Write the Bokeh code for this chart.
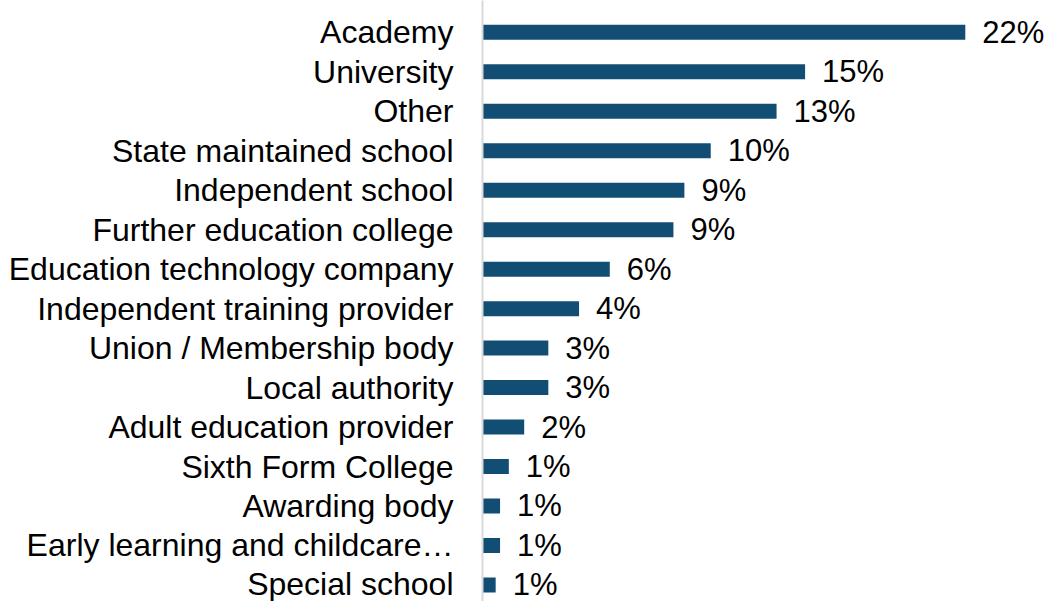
from bokeh.plotting import figure
from bokeh.models import ColumnDataSource, Range1d, FixedTicker
from bokeh.core.properties import value
from bokeh.embed import file_html
from bokeh.resources import INLINE

categories = [
    "Academy", "University", "Other", "State maintained school", "Independent school",
    "Further education college", "Education technology company", "Independent training provider",
    "Union / Membership body", "Local authority", "Adult education provider",
    "Sixth Form College", "Awarding body", "Early learning and childcare\u2026", "Special school",
]
shares = [22.0, 14.7, 13.4, 10.4, 9.2, 8.7, 5.8, 4.4, 3.0, 3.0, 1.9, 1.2, 0.8, 0.8, 0.6]
share_labels = ["22%", "15%", "13%", "10%", "9%", "9%", "6%", "4%", "3%", "3%", "2%", "1%", "1%", "1%", "1%"]

n = len(categories)
ypos = [n - 1 - i for i in range(n)]

src = ColumnDataSource(dict(cat=categories, share=shares, lab=share_labels, y=ypos))

p = figure(width=1046, height=601, output_backend="svg", toolbar_location=None,
           x_range=Range1d(0, 25.70), y_range=Range1d(-0.42, 14.807),
           x_axis_location=None, min_border_left=482, min_border_right=0,
           min_border_top=0, min_border_bottom=0)
p.outline_line_color = None
p.xgrid.visible = False
p.ygrid.visible = False
p.background_fill_color = "white"

p.hbar(y="y", left=0, right="share", height=0.38, source=src,
       fill_color="#124e73", line_color=None)
p.text(x="share", y="y", text="lab", source=src, x_offset=17, y_offset=0,
       text_baseline="middle", text_align="left",
       text_font=value("Liberation Sans"), text_font_size="31px", text_color="#000000")

ax = p.yaxis[0]
ax.ticker = FixedTicker(ticks=ypos)
ax.major_label_overrides = {y: c for y, c in zip(ypos, categories)}
ax.major_tick_line_color = None
ax.minor_tick_line_color = None
ax.major_tick_out = 0
ax.major_tick_in = 0
ax.major_label_standoff = 29
ax.axis_line_color = "#d9d9d9"
ax.axis_line_width = 2
ax.major_label_text_font = "Liberation Sans"
ax.major_label_text_font_size = "32px"
ax.major_label_text_color = "#000000"

open("out.html", "w").write(file_html(p, INLINE))
